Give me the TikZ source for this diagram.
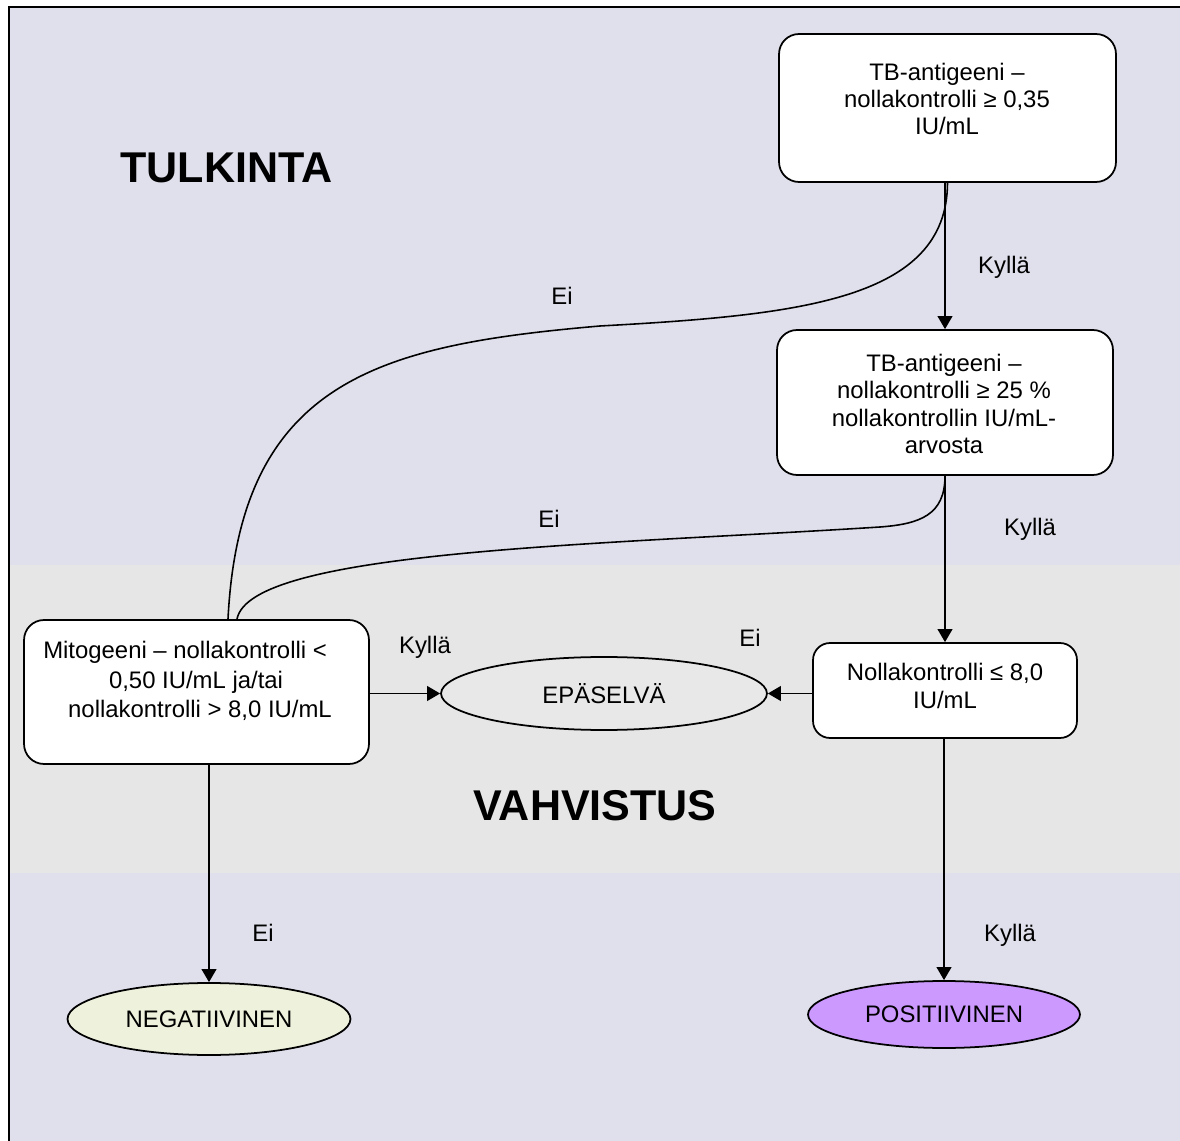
\documentclass[tikz,border=0pt]{standalone}
\usepackage{fontspec}
\setmainfont{Liberation Sans}
\usetikzlibrary{arrows.meta,shapes.geometric}
\definecolor{lav}{HTML}{E0E0EC}
\definecolor{band}{HTML}{E6E6E6}
\definecolor{negfill}{HTML}{EEF2DC}
\definecolor{posfill}{HTML}{CC99FF}
\definecolor{epafill}{HTML}{E8E8E8}
\begin{document}
\begin{tikzpicture}[x=0.02cm,y=-0.02cm,
  box/.style={draw=black, line width=1pt, fill=white, rounded corners=0.4cm, inner sep=0pt},
  txt/.style={font=\fontsize{13.6}{15.5}\selectfont, align=center, inner sep=0pt},
  oval/.style={ellipse, draw=black, line width=1pt, inner sep=0pt, font=\fontsize{13.6}{15.5}\selectfont},
  conn/.style={line width=0.9pt, -{Triangle[length=7.4pt,width=8.4pt]}},
  curvy/.style={line width=0.9pt},
  titletext/.style={font=\fontsize{24.5}{28}\selectfont\bfseries, inner sep=0pt}]
\useasboundingbox (0,0) rectangle (1180,1141);
\clip (0,0) rectangle (1180,1141);
% background
\fill[white] (0,0) rectangle (1180,1141);
\fill[lav] (9,7) rectangle (1185,565);
\fill[band] (9,565) rectangle (1185,873);
\fill[lav] (9,873) rectangle (1185,1150);
\draw[line width=1.5pt] (9,1160) -- (9,7) -- (1190,7);

% titles
\node[titletext] (tul) at (226.5,168) {TULKINTA};
\node[titletext] (vah) at (595,806) {VAHVISTUS};

% boxes
\node[box, minimum width=6.74cm, minimum height=2.96cm] (b1) at (947.5,108) {};
\node[txt] (t1) at (947,99) {TB-antigeeni –\\nollakontrolli ≥ 0,35\\IU/mL};
\node[box, minimum width=6.72cm, minimum height=2.90cm] (b2) at (945,402.5) {};
\node[txt] (t2) at (944,404) {TB-antigeeni –\\nollakontrolli ≥ 25 \%\\nollakontrollin IU/mL-\\arvosta};
\node[box, rounded corners=0.34cm, minimum width=5.28cm, minimum height=1.90cm] (b3) at (945,690.5) {};
\node[txt] (t3) at (945,686) {Nollakontrolli ≤ 8,0\\IU/mL};
\node[box, minimum width=6.90cm, minimum height=2.88cm] (b4) at (196.5,692) {};
\node[txt, font=\fontsize{13.6}{17}\selectfont] (t4) at (200,681) {Mitogeeni – nollakontrolli <\rule{17pt}{0pt}\\0,50 IU/mL ja/tai\rule{4.5pt}{0pt}\\nollakontrolli > 8,0 IU/mL};

% ellipses
\node[oval, fill=epafill, minimum width=6.52cm, minimum height=1.46cm] (epa) at (604,693.5) {EPÄSELVÄ};
\node[oval, fill=negfill, minimum width=5.66cm, minimum height=1.44cm] (neg) at (209,1019) {NEGATIIVINEN};
\node[oval, fill=posfill, minimum width=5.44cm, minimum height=1.34cm] (pos) at (944,1014.5) {POSITIIVINEN};

% curves
\draw[curvy] (b1.south) .. controls (947,300) and (800,315) .. (600,326)
  .. controls (380,345) and (240,380) .. ([xshift=0.63cm]b4.north);
\draw[curvy] (b2.south) .. controls (945,515) and (920,524) .. (880,527)
  .. controls (600,545) and (250,550) .. ([xshift=0.81cm]b4.north);

% arrows
\draw[conn] (b1.south -| b2.north) -- (b2.north);
\draw[conn] (b2.south -| b3.north) -- (b3.north);
\draw[conn] (b3.south -| pos.north) -- (pos.north);
\draw[conn] (b3.west |- epa.east) -- (epa.east);
\draw[conn] (b4.east |- epa.west) -- (epa.west);
\draw[conn] (b4.south -| neg.north) -- (neg.north);

% labels
\node[txt] (k1) at (1004,267) {Kyllä};
\node[txt] (e1) at (562,296) {Ei};
\node[txt] (k2) at (1030,529) {Kyllä};
\node[txt] (e2) at (549,519) {Ei};
\node[txt] (k3) at (425,647) {Kyllä};
\node[txt] (e3) at (750,638) {Ei};
\node[txt] (e4) at (263,933) {Ei};
\node[txt] (k4) at (1010,935) {Kyllä};
\end{tikzpicture}
\end{document}
